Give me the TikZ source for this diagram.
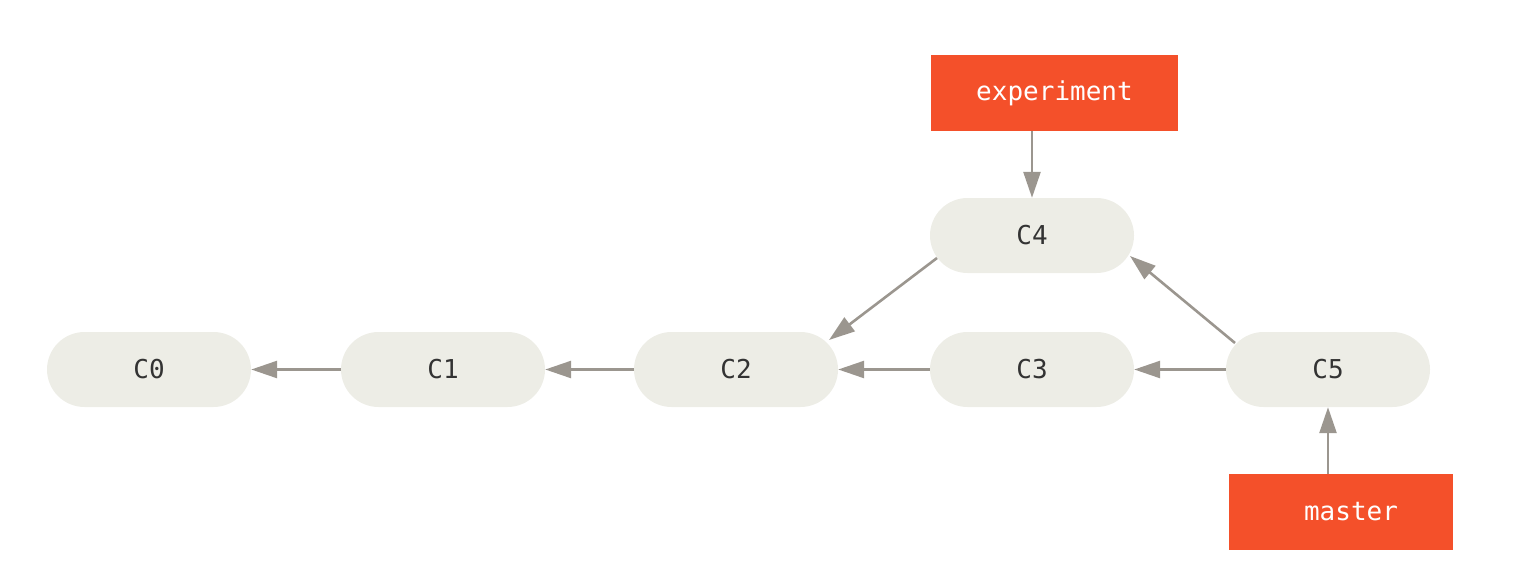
\documentclass[tikz,border=0pt]{standalone}
\usepackage{fontspec}
\setmonofont{DejaVu Sans Mono}
\usetikzlibrary{arrows.meta}
\definecolor{commitfill}{HTML}{EDEDE6}
\definecolor{branchred}{HTML}{F4502A}
\definecolor{arrowgray}{HTML}{9B968F}
\definecolor{commitText}{HTML}{333333}
\tikzset{
  commit/.style={fill=commitfill, rounded corners=37.5pt, minimum width=204pt, minimum height=75pt, inner sep=0pt, text=commitText, font=\ttfamily\fontsize{26}{30}\selectfont},
  branch/.style={fill=branchred, minimum height=76pt, inner sep=0pt, text=white, font=\ttfamily\fontsize{26}{30}\selectfont},
  conn/.style={draw=arrowgray, line width=2.6pt, -{Triangle[length=26pt,width=17pt]}, fill=arrowgray}
}
\begin{document}
\begin{tikzpicture}[x=1pt,y=-1pt]
\useasboundingbox (0,0) rectangle (1518,586);
\node[commit] (C0) at (149,369.5) {C0};
\node[commit] (C1) at (443,369.5) {C1};
\node[commit] (C2) at (736,369.5) {C2};
\node[commit] (C3) at (1032,369.5) {C3};
\node[commit] (C5) at (1328,369.5) {C5};
\node[commit] (C4) at (1032,235.5) {C4};
\node[branch, minimum width=247pt] (experiment) at (1054.5,93) {experiment};
\node[branch, minimum width=224pt] (master) at (1341,512) {\hspace*{20pt}master};
\draw[conn] (C1) -- (C0);
\draw[conn] (C2) -- (C1);
\draw[conn] (C3) -- (C2);
\draw[conn] (C5) -- (C3);
\draw[conn] ([shift={(-95,22.5)}]C4.center) -- ([shift={(93,-29.5)}]C2.center);
\draw[conn] ([shift={(-93,-26.5)}]C5.center) -- ([shift={(98,20.5)}]C4.center);
\draw[conn] (C4.north |- experiment.south) -- (C4.north);
\draw[conn] (C5.south |- master.north) -- (C5.south);
\end{tikzpicture}
\end{document}
